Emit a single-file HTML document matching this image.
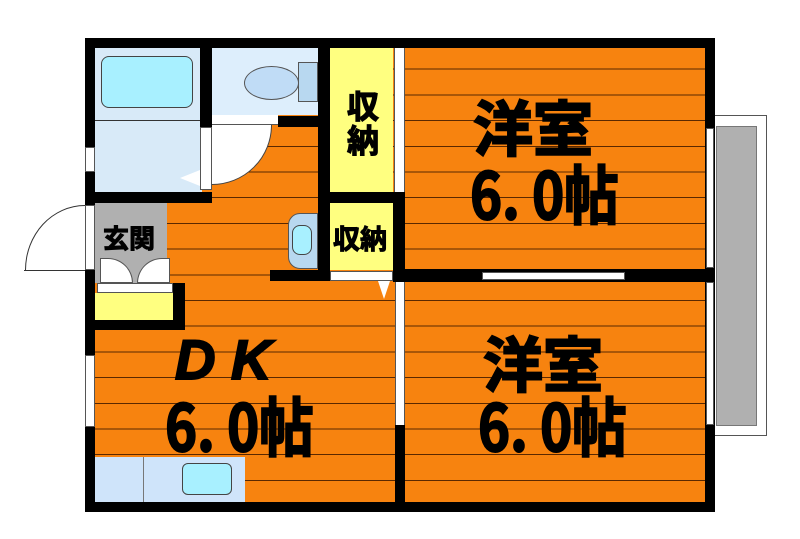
<!DOCTYPE html>
<html><head><meta charset="utf-8"><style>
body{margin:0;background:#fff;}
#c{position:relative;width:800px;height:539px;overflow:hidden;background:#fff;font-family:"Liberation Sans","Noto Sans CJK JP",sans-serif;}
#c div{position:absolute;box-sizing:border-box;}
.k{background:#000;}
.w{background:#fff;}
.or{background-color:#f7830f;background-image:repeating-linear-gradient(to bottom,transparent 0,transparent 24.7px,#5a2800 24.7px,#5a2800 25.7px);background-position:0 -4px;}
.t{font-weight:bold;color:#000;line-height:1;white-space:nowrap;font-family:"Noto Sans CJK JP","Liberation Sans",sans-serif;-webkit-text-stroke:2px #000;}
</style></head><body><div id="c">
<!-- balcony -->
<div style="left:712px;top:115px;width:55px;height:321px;border:1px solid #555;background:#fff"></div>
<div style="left:716px;top:126px;width:41px;height:300px;background:#b0b0b0;border:1px solid #777"></div>
<!-- outer walls -->
<div class="k" style="left:85px;top:38px;width:630px;height:474px"></div>
<div class="or" style="left:95px;top:48px;width:610px;height:454px"></div>
<!-- bath -->
<div style="left:95px;top:48px;width:107px;height:144px;background:#d8eaf8"></div>
<div style="left:101px;top:56px;width:92px;height:52px;background:#a8f0ff;border:1px solid #444;border-radius:8px"></div>
<div style="left:95px;top:120px;width:107px;height:1px;background:#333"></div>
<div class="k" style="left:200px;top:48px;width:12px;height:79px"></div>
<div class="w" style="left:200px;top:127px;width:12px;height:63px;border:1px solid #555"></div>
<div style="left:180px;top:170px;width:0;height:0;border-top:8px solid transparent;border-bottom:8px solid transparent;border-right:20px solid #fff"></div>
<div class="k" style="left:85px;top:192px;width:127px;height:11px"></div>
<div class="w" style="left:85px;top:147px;width:10px;height:25px;border:1px solid #555"></div>
<!-- toilet -->
<div style="left:212px;top:48px;width:106px;height:67px;background:#ddeefc"></div>
<div style="left:298px;top:62px;width:20px;height:40px;background:#b8d8f0;border:1px solid #555"></div>
<div style="left:244px;top:66px;width:55px;height:34px;background:#c0dcf6;border:1px solid #555;border-radius:50%"></div>
<div class="w" style="left:212px;top:115px;width:66px;height:10px;border-bottom:1px solid #555"></div>
<div class="k" style="left:278px;top:116px;width:42px;height:11px"></div>
<div style="left:152px;top:65px;width:120px;height:120px;border-radius:50%;background:#fff;border:1px solid #444;clip-path:inset(60px 0 0 60px)"></div>
<!-- storage -->
<div class="k" style="left:318px;top:38px;width:12px;height:242px"></div>
<div style="left:330px;top:48px;width:63px;height:145px;background:#ffff80"></div>
<div class="w" style="left:394px;top:48px;width:11px;height:145px;border-left:1px solid #555;border-right:1px solid #555"></div>
<div class="k" style="left:328px;top:192px;width:77px;height:11px"></div>
<div style="left:330px;top:203px;width:63px;height:67px;background:#ffff80"></div>
<div class="k" style="left:393px;top:192px;width:12px;height:90px"></div>
<div class="k" style="left:270px;top:270px;width:60px;height:11px"></div>
<div class="w" style="left:330px;top:271px;width:63px;height:10px;border:1px solid #555"></div>
<div style="left:378px;top:281px;width:0;height:0;border-left:6px solid transparent;border-right:6px solid transparent;border-top:18px solid #fff"></div>
<div style="left:288px;top:213px;width:30px;height:56px;background:#b8d8f0;border:1px solid #555;border-radius:12px 0 0 12px"></div>
<div style="left:292px;top:225px;width:20px;height:30px;background:#a8f0ff;border:1px solid #444;border-radius:8px"></div>
<div class="t" style="left:346px;top:88px;font-size:32px;width:34px;text-align:center;line-height:34px;-webkit-text-stroke:1.2px #000">収<br>納</div>
<div class="t" style="left:333px;top:224px;font-size:27px;-webkit-text-stroke:1px #000">収納</div>
<!-- room divider -->
<div class="k" style="left:393px;top:269px;width:322px;height:13px"></div>
<div class="w" style="left:482px;top:272px;width:143px;height:8px;border:1px solid #555"></div>
<div class="k" style="left:395px;top:282px;width:10px;height:220px"></div>
<div class="w" style="left:395px;top:282px;width:10px;height:143px;border-left:1px solid #555;border-right:1px solid #555"></div>
<!-- right windows -->
<div class="w" style="left:706px;top:128px;width:8px;height:140px;border:1px solid #555"></div>
<div class="w" style="left:706px;top:282px;width:8px;height:143px;border:1px solid #555"></div>
<!-- entry -->
<div style="left:95px;top:203px;width:72px;height:80px;background:#b0b0b0"></div>
<div class="w" style="left:85px;top:205px;width:10px;height:65px;border:1px solid #555"></div>
<div style="left:25px;top:205px;width:120px;height:130px;border-radius:50%;border:1px solid #333;clip-path:inset(0 60px 65px 0)"></div>
<div style="left:24px;top:270px;width:61px;height:1px;background:#333"></div>
<div class="w" style="left:100px;top:258px;width:33px;height:25px;border:1px solid #555;border-radius:0 28px 0 0"></div>
<div class="w" style="left:137px;top:258px;width:33px;height:25px;border:1px solid #555;border-radius:28px 0 0 0"></div>
<div class="w" style="left:97px;top:283px;width:76px;height:10px;border:1px solid #555"></div>
<div style="left:95px;top:293px;width:78px;height:28px;background:#ffff80"></div>
<div class="k" style="left:173px;top:283px;width:12px;height:47px"></div>
<div class="k" style="left:85px;top:320px;width:100px;height:10px"></div>
<div class="t" style="left:103px;top:225px;font-size:26px;-webkit-text-stroke:1px #000">玄関</div>
<div class="w" style="left:85px;top:355px;width:10px;height:72px;border:1px solid #555"></div>
<!-- kitchen -->
<div style="left:95px;top:457px;width:150px;height:45px;background:#cfe4fa"></div>
<div style="left:143px;top:457px;width:1px;height:45px;background:#777"></div>
<div style="left:182px;top:463px;width:50px;height:32px;background:#a8f0ff;border:1px solid #444;border-radius:6px"></div>
<!-- labels -->
<div class="t" style="left:473px;top:96px;font-size:60px">洋室</div>
<div class="t" style="left:470px;top:160px;font-size:64px;transform:scaleX(0.85);transform-origin:left top">6.&nbsp;0帖</div>
<div class="t" style="left:483px;top:332px;font-size:60px">洋室</div>
<div class="t" style="left:478px;top:392px;font-size:64px;transform:scaleX(0.85);transform-origin:left top">6.&nbsp;0帖</div>
<div class="t" style="left:175px;top:332px;font-size:56px;font-style:italic;font-family:'Liberation Sans',sans-serif">D&nbsp;K</div>
<div class="t" style="left:165px;top:392px;font-size:64px;transform:scaleX(0.85);transform-origin:left top">6.&nbsp;0帖</div>
</div></body></html>
